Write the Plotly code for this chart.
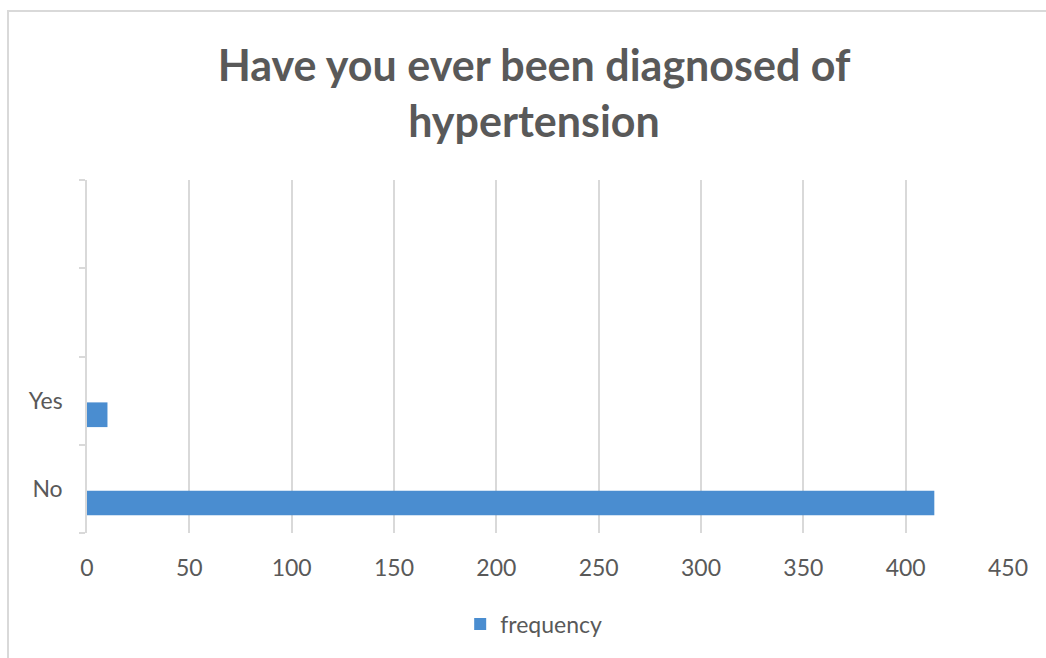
import plotly.graph_objects as go

categories = ["No", "Yes", " ", "  "]
frequency = [414, 10, None, None]
x_ticks = [0, 50, 100, 150, 200, 250, 300, 350, 400, 450]
title_text = "Have you ever been diagnosed of<br>hypertension"
series_name = "frequency"

TEXT = "#595959"
GRID = "#d9d9d9"
FONT = "Lato"

fig = go.Figure()
fig.add_trace(go.Bar(
    y=categories, x=frequency, orientation="h", name=series_name,
    marker=dict(color="#4a8dd0", line=dict(width=0)),
    width=0.28, offset=-0.30,
))

fig.update_layout(
    width=1046, height=658,
    paper_bgcolor="white", plot_bgcolor="white",
    margin=dict(l=87, r=38, t=180, b=125, autoexpand=False),
    title=dict(text=title_text, x=534/1046, xref="container", xanchor="center",
               y=1-81/658, yref="container", yanchor="middle",
               font=dict(family=FONT, size=43, color=TEXT, weight="bold")),
    font=dict(family=FONT, color=TEXT),
    showlegend=True,
    legend=dict(orientation="h", x=0.485, xanchor="center", y=-0.258, yanchor="middle",
                font=dict(size=23, color=TEXT), itemwidth=30),
    shapes=[dict(type="rect", xref="paper", yref="paper",
                 x0=(8-87)/921, x1=1.2, y0=-0.6, y1=1+(180-11)/353,
                 line=dict(color=GRID, width=2), fillcolor="rgba(0,0,0,0)", layer="below")],
)
fig.update_xaxes(range=[0, 450], tickvals=x_ticks, showgrid=True, gridcolor=GRID, gridwidth=1.5,
                 zeroline=False, showline=False, ticks="", automargin=False,
                 tickfont=dict(size=23, color=TEXT), ticklabelstandoff=19)
fig.update_yaxes(type="category", categoryorder="array", categoryarray=categories,
                 range=[-0.5, 3.5], showgrid=False, zeroline=False, automargin=False,
                 showline=True, linecolor=GRID, linewidth=1.5,
                 ticks="outside", tickson="boundaries", ticklen=6, tickcolor=GRID, tickwidth=1.5,
                 tickfont=dict(size=23, color=TEXT), ticklabelstandoff=18)

fig.write_html("out.html", config={"displayModeBar": False},
               post_script="document.body.style.margin='0';document.body.style.padding='0';")
